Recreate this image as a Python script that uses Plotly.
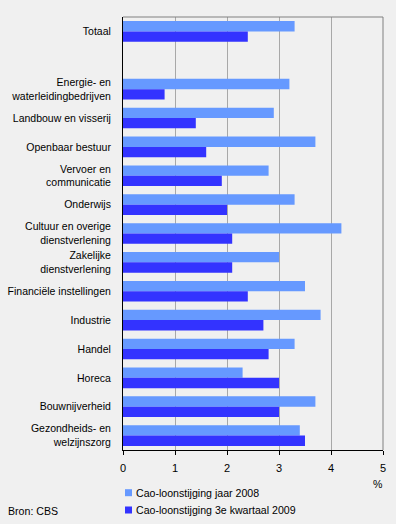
import plotly.graph_objects as go

categories = [
    "Totaal",
    " ",
    "Energie- en<br>waterleidingbedrijven",
    "Landbouw en visserij",
    "Openbaar bestuur",
    "Vervoer en<br>communicatie",
    "Onderwijs",
    "Cultuur en overige<br>dienstverlening",
    "Zakelijke<br>dienstverlening",
    "Financiële instellingen",
    "Industrie",
    "Handel",
    "Horeca",
    "Bouwnijverheid",
    "Gezondheids- en<br>welzijnszorg",
]
cao_2008 = [3.3, None, 3.2, 2.9, 3.7, 2.8, 3.3, 4.2, 3.0, 3.5, 3.8, 3.3, 2.3, 3.7, 3.4]
cao_q3_2009 = [2.4, None, 0.8, 1.4, 1.6, 1.9, 2.0, 2.1, 2.1, 2.4, 2.7, 2.8, 3.0, 3.0, 3.5]
series_names = ["Cao-loonstijging jaar 2008", "Cao-loonstijging 3e kwartaal 2009"]
x_ticks = [0, 1, 2, 3, 4, 5]

light = "#6699ff"
dark = "#3333ff"
family = "Liberation Sans, Arial, sans-serif"
font = dict(family=family, size=10.6, color="#000000")
tickfont = dict(family=family, size=10.5, color="#000000")

fig = go.Figure()
fig.add_trace(go.Bar(y=categories, x=cao_2008, orientation="h", name=series_names[0],
                     marker=dict(color=light, line=dict(width=0))))
fig.add_trace(go.Bar(y=categories, x=cao_q3_2009, orientation="h", name=series_names[1],
                     marker=dict(color=dark, line=dict(width=0))))

W, H = 396, 524
ml, mr, mt, mb = 123, 13, 17, 74
pw, ph = W - ml - mr, H - mt - mb

def px(x):
    return (x - ml) / pw

def py(y):
    return (H - mb - y) / ph

fig.update_layout(
    width=W, height=H,
    margin=dict(l=ml, r=mr, t=mt, b=mb, pad=0),
    paper_bgcolor="#f0f0f0", plot_bgcolor="#f0f0f0",
    font=font,
    barmode="group", bargap=0.284, bargroupgap=0,
    showlegend=False,
    xaxis=dict(range=[0, 5], tickvals=x_ticks, ticktext=[str(v) for v in x_ticks],
               tickfont=dict(family=family, size=11, color="#000000"),
               showgrid=True, gridcolor="#a8a8a8", gridwidth=1,
               showline=True, linecolor="#000000", linewidth=1,
               ticks="outside", ticklen=4, tickcolor="#000000",
               ticklabelstandoff=4, automargin=False,
               zeroline=False, fixedrange=True),
    yaxis=dict(categoryorder="array", categoryarray=categories,
               range=[len(categories) - 0.5, -0.5],
               tickfont=tickfont,
               showline=True, linecolor="#000000", linewidth=1,
               showgrid=False, zeroline=False, ticks="",
               ticklabelstandoff=9, automargin=False, fixedrange=True),
)

shapes = [
    dict(type="line", xref="paper", yref="paper", x0=0, x1=1, y0=1, y1=1,
         line=dict(color="#808080", width=1)),
    dict(type="line", xref="paper", yref="paper", x0=1, x1=1, y0=0, y1=1,
         line=dict(color="#808080", width=1)),
]
annotations = []
legend_rows = [492.7, 510]
for name, col, yc in zip(series_names, [light, dark], legend_rows):
    shapes.append(dict(type="rect", xref="paper", yref="paper",
                       x0=px(125), x1=px(132), y0=py(yc - 3.5), y1=py(yc + 3.5),
                       fillcolor=col, line=dict(width=0)))
    annotations.append(dict(text=name, xref="paper", yref="paper", x=px(134), y=py(yc),
                            xanchor="left", yanchor="middle", showarrow=False, font=font))
annotations.append(dict(text="%", xref="paper", yref="paper", x=px(378), y=py(483.5),
                        xanchor="center", yanchor="middle", showarrow=False, font=font))
annotations.append(dict(text="Bron: CBS", xref="paper", yref="paper", x=px(6), y=py(511),
                        xanchor="left", yanchor="middle", showarrow=False, font=font))
fig.update_layout(shapes=shapes, annotations=annotations)

fig.write_html("out.html", config={"displayModeBar": False},
               post_script="document.body.style.margin='0';document.body.style.overflow='hidden';")
